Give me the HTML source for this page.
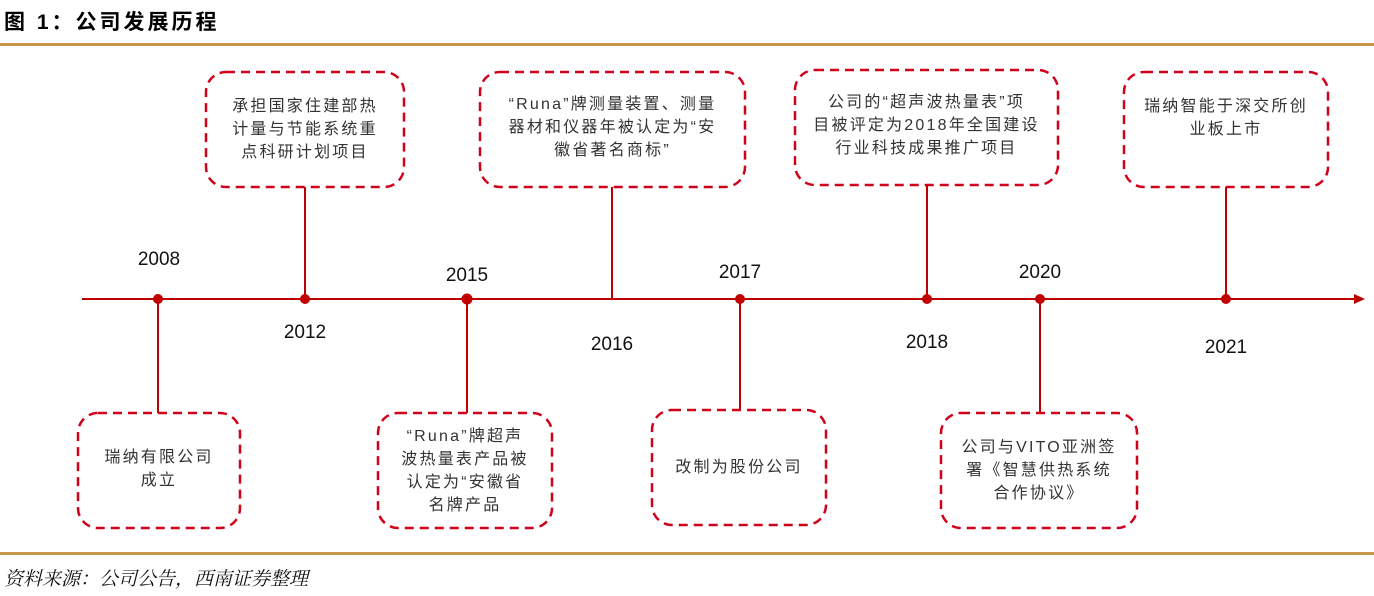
<!DOCTYPE html>
<html><head><meta charset="utf-8"><style>
html,body{margin:0;padding:0;background:#fff;}
body{width:1374px;height:596px;position:relative;overflow:hidden;font-family:"Liberation Sans","Noto Sans CJK SC",sans-serif;}
.t{position:absolute;color:#333;font-size:16px;line-height:23px;text-align:center;letter-spacing:2.2px;display:flex;align-items:center;justify-content:center;}
.y{position:absolute;font-size:19px;color:#111;width:80px;text-align:center;}
</style></head><body>
<div style="position:absolute;left:4px;top:6px;font-size:21px;font-weight:bold;color:#000;letter-spacing:3px;font-family:'Liberation Sans','Noto Sans CJK SC',sans-serif;">图 1：公司发展历程</div>
<div style="position:absolute;left:0;top:43px;width:1374px;height:3px;background:#c8964a;"></div>
<div style="position:absolute;left:0;top:552px;width:1374px;height:3px;background:#c8964a;"></div>
<div style="position:absolute;left:4px;top:564px;font-size:19px;font-style:italic;color:#111;font-family:'Noto Serif CJK SC','Noto Sans CJK SC',serif;">资料来源：公司公告，西南证券整理</div>
<svg width="1374" height="596" style="position:absolute;left:0;top:0">
<g fill="none" stroke="#d0021b" stroke-width="2.5" stroke-dasharray="9,6">
<rect x="206" y="72" width="198" height="115" rx="20"/>
<rect x="480" y="72" width="265" height="115" rx="20"/>
<rect x="795" y="70" width="263" height="115" rx="20"/>
<rect x="1124" y="72" width="204" height="115" rx="20"/>
<rect x="78" y="413" width="162" height="115" rx="20"/>
<rect x="378" y="413" width="174" height="115" rx="20"/>
<rect x="652" y="410" width="174" height="115" rx="20"/>
<rect x="941" y="413" width="196" height="115" rx="20"/>
</g>
<g stroke="#c00000" stroke-width="2">
<line x1="82" y1="299" x2="1356" y2="299"/>
<line x1="305" y1="187" x2="305" y2="299"/>
<line x1="612" y1="187" x2="612" y2="299"/>
<line x1="927" y1="185" x2="927" y2="299"/>
<line x1="1226" y1="187" x2="1226" y2="299"/>
<line x1="158" y1="299" x2="158" y2="413"/>
<line x1="467" y1="299" x2="467" y2="413"/>
<line x1="740" y1="299" x2="740" y2="410"/>
<line x1="1040" y1="299" x2="1040" y2="413"/>
</g>
<polygon points="1354,294 1365,299 1354,304" fill="#c00000"/>
<g fill="#c00000">
<circle cx="158" cy="299" r="5"/><circle cx="305" cy="299" r="5"/><circle cx="467" cy="299" r="5.5"/>
<circle cx="740" cy="299" r="5"/><circle cx="927" cy="299" r="5"/><circle cx="1040" cy="299" r="5"/><circle cx="1226" cy="299" r="5"/>
</g>
</svg>
<div class="y" style="left:119px;top:249px">2008</div>
<div class="y" style="left:265px;top:322px">2012</div>
<div class="y" style="left:427px;top:265px">2015</div>
<div class="y" style="left:572px;top:334px">2016</div>
<div class="y" style="left:700px;top:262px">2017</div>
<div class="y" style="left:887px;top:332px">2018</div>
<div class="y" style="left:1000px;top:262px">2020</div>
<div class="y" style="left:1186px;top:337px">2021</div>

<div class="t" style="left:204px;top:72px;width:202px;height:115px">承担国家住建部热<br>计量与节能系统重<br>点科研计划项目</div>
<div class="t" style="left:476px;top:70px;width:273px;height:115px">“Runa”牌测量装置、测量<br>器材和仪器年被认定为“安<br>徽省著名商标”</div>
<div class="t" style="left:791px;top:68px;width:271px;height:115px">公司的“超声波热量表”项<br>目被评定为2018年全国建设<br>行业科技成果推广项目</div>
<div class="t" style="left:1124px;top:60px;width:204px;height:115px">瑞纳智能于深交所创<br>业板上市</div>
<div class="t" style="left:78px;top:411px;width:162px;height:115px">瑞纳有限公司<br>成立</div>
<div class="t" style="left:376px;top:413px;width:178px;height:115px">“Runa”牌超声<br>波热量表产品被<br>认定为“安徽省<br>名牌产品</div>
<div class="t" style="left:652px;top:410px;width:174px;height:115px">改制为股份公司</div>
<div class="t" style="left:939px;top:413px;width:200px;height:115px">公司与VITO亚洲签<br>署《智慧供热系统<br>合作协议》</div>
</body></html>
